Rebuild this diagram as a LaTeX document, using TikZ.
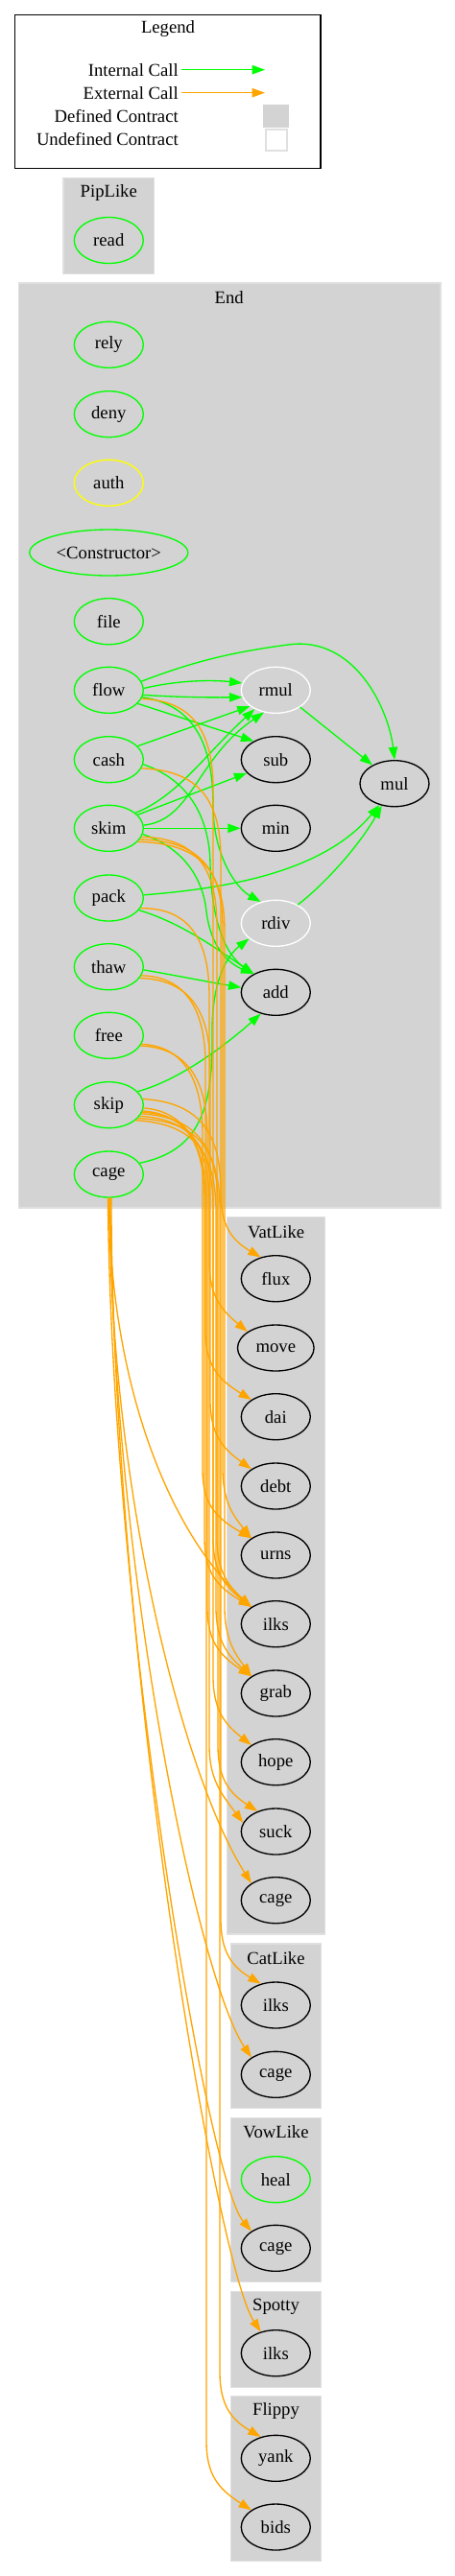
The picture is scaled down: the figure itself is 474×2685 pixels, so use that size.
\documentclass[tikz,border=0pt]{standalone}
\usepackage{fontspec}
\setmainfont{Liberation Serif}
\usetikzlibrary{arrows.meta,shapes.geometric}
\definecolor{gvgreen}{HTML}{00FF00}
\definecolor{gvorange}{HTML}{FFA500}
\definecolor{gvgray}{HTML}{D3D3D3}
\definecolor{gvyellow}{HTML}{FFFF00}
\definecolor{gvedge}{HTML}{E0E0E0}
\newcommand\oedge[5]{\draw[ext] (#1) .. controls (#2-22,#3+3) and (#2,#3+35) .. (#2,#3+95) -- (#2,#4-90) .. controls (#2,#4-55) and (#2+12,#4-40) .. (#5);}
\begin{document}
\begin{tikzpicture}[x=0.75pt,y=-0.75pt,
  every node/.style={font=\fontsize{14}{16}\selectfont},
  fn/.style={ellipse, draw=black, line width=1pt, minimum width=54pt, minimum height=36pt, inner sep=0pt},
  pub/.style={fn, draw=gvgreen},
  priv/.style={fn, draw=white},
  cluster/.style={fill=gvgray, draw=gvedge, line width=1pt},
  title/.style={inner sep=0pt},
  lbl/.style={inner sep=0pt, anchor=east},
  int/.style={draw=gvgreen, line width=1pt, -{Triangle[length=10pt,width=7pt]}},
  ext/.style={draw=gvorange, line width=1pt, -{Triangle[length=10pt,width=7pt]}},
]
\useasboundingbox (0,0) rectangle (474,2685);
\fill[white] (0,0) rectangle (474,2685);

% Legend
\draw[line width=1pt] (15.7,15.7) rectangle (334,175.7);
\node[title] (legend) at (175,30) {Legend};
\node[lbl] (lint) at (186,72.7) {Internal Call};
\node[lbl] (lext) at (186,96.7) {External Call};
\node[lbl] (ldef) at (186,120.7) {Defined Contract};
\node[lbl] (lund) at (186,145) {Undefined Contract};
\coordinate (lia) at (189,72.7); \coordinate (lib) at (276,72.7);
\coordinate (lea) at (189,96.7); \coordinate (leb) at (276,96.7);
\draw[int] (lia) -- (lib);
\draw[ext] (lea) -- (leb);
\node[rectangle, fill=gvgray, minimum width=20pt, minimum height=18pt, inner sep=0pt] (sqdef) at (287.5,121) {};
\node[rectangle, fill=white, draw=gvedge, line width=1pt, minimum width=16.5pt, minimum height=16.5pt, inner sep=0pt] (sqund) at (288,146) {};

% Clusters
\draw[cluster] (66,185.7) rectangle (160.7,285.7);
\node[title] (tpip) at (113.3,201) {PipLike};
\draw[cluster] (19.3,295) rectangle (459,1259);
\node[title] (tend) at (238.7,310) {End};
\draw[cluster] (236.7,1268.3) rectangle (338.7,2016);
\node[title] (tvat) at (287.7,1284) {VatLike};
\draw[cluster] (240.3,2026) rectangle (334.7,2197.3);
\node[title] (tcat) at (287.5,2040.7) {CatLike};
\draw[cluster] (240.3,2207.3) rectangle (334.7,2378.7);
\node[title] (tvow) at (287.5,2222.3) {VowLike};
\draw[cluster] (240.3,2388.7) rectangle (334.7,2488.3);
\node[title] (tspot) at (287.5,2404.3) {Spotty};
\draw[cluster] (240.3,2497.7) rectangle (334.7,2669.3);
\node[title] (tflip) at (287.5,2513.3) {Flippy};

% Nodes
\node[pub] (read) at (113.3,250.5) {read};
\node[pub] (rely) at (113.3,359.3) {rely};
\node[pub] (deny) at (113.3,431.7) {deny};
\node[pub, draw=gvyellow] (auth) at (113.3,503.3) {auth};
\node[pub, minimum width=123.75pt] (ctor) at (113.3,576) {<Constructor>};
\node[pub] (file) at (113.3,647.7) {file};
\node[pub] (flow) at (113.3,719.3) {flow};
\node[pub] (cash) at (113.3,791.7) {cash};
\node[pub] (skim) at (113.3,863.3) {skim};
\node[pub] (pack) at (113.3,936) {pack};
\node[pub] (thaw) at (113.3,1007.7) {thaw};
\node[pub] (free) at (113.3,1079.3) {free};
\node[pub] (skip) at (113.3,1151.7) {skip};
\node[pub] (ecage) at (113.3,1224) {cage};

\node[priv] (rmul) at (287.3,719.3) {rmul};
\node[fn] (sub) at (287.3,791.7) {sub};
\node[fn] (min) at (287.3,863.3) {min};
\node[priv] (rdiv) at (287.3,962.3) {rdiv};
\node[fn] (add) at (287.3,1034.3) {add};
\node[fn] (mul) at (411,816.7) {mul};

\node[fn] (flux) at (287.3,1332.7) {flux};
\node[fn, minimum width=59.7pt] (move) at (287.3,1405) {move};
\node[fn] (dai) at (287.3,1476.7) {dai};
\node[fn] (debt) at (287.3,1549) {debt};
\node[fn] (urns) at (287.3,1621) {urns};
\node[fn] (vilks) at (287.3,1692.7) {ilks};
\node[fn] (grab) at (287.3,1765) {grab};
\node[fn] (hope) at (287.3,1836.7) {hope};
\node[fn] (suck) at (287.3,1909) {suck};
\node[fn] (vcage) at (287.3,1980.7) {cage};

\node[fn] (cilks) at (287.3,2090) {ilks};
\node[fn] (ccage) at (287.3,2162.3) {cage};
\node[pub] (heal) at (287.3,2271.7) {heal};
\node[fn] (wcage) at (287.3,2343.3) {cage};
\node[fn] (silks) at (287.3,2452.7) {ilks};
\node[fn] (yank) at (287.3,2562.3) {yank};
\node[fn] (bids) at (287.3,2634) {bids};

% Internal calls
\draw[int] (flow.15) .. controls (200,690) and (240,680) .. (300,672) .. controls (370,662) and (405,740) .. (mul.north);
\draw[int] (flow.3) .. controls (190,708) and (225,709) .. (rmul.168);
\draw[int] (flow.-8) .. controls (190,727) and (225,727) .. (rmul.192);
\draw[int] (flow.-25) -- (sub.140);
\draw[int] (flow.-12) .. controls (205,735) and (222,780) .. (222,840) .. controls (222,890) and (245,925) .. (rdiv.125);
\draw[int] (cash.25) -- (rmul.212);
\draw[int] (cash.-8) .. controls (195,812) and (218,850) .. (219,900) .. controls (220,960) and (235,995) .. (add.140);
\draw[int] (skim.30) .. controls (185,830) and (215,785) .. (rmul.222);
\draw[int] (skim.5) .. controls (200,855) and (205,790) .. (rmul.242);
\draw[int] (skim.25) -- (sub.205);
\draw[int] (skim.east) -- (min.west);
\draw[int] (skim.-10) .. controls (195,885) and (212,920) .. (215,950) .. controls (220,990) and (240,1005) .. (add.140);
\draw[int] (pack.5) .. controls (250,925) and (340,905) .. (mul.235);
\draw[int] (pack.-22) .. controls (190,962) and (230,992) .. (add.140);
\draw[int] (thaw.-5) .. controls (190,1018) and (220,1024) .. (add.172);
\draw[int] (skip.25) .. controls (190,1125) and (240,1085) .. (add.235);
\draw[int] (ecage.20) .. controls (205,1200) and (222,1160) .. (221,1080) .. controls (220,1020) and (238,995) .. (rdiv.210);
\draw[int] (rmul.-35) -- (mul.140);
\draw[int] (rdiv.40) .. controls (340,920) and (375,880) .. (mul.240);

% External calls
\oedge{flow.-15}{222}{727}{1693}{vilks.145}
\oedge{cash.-15}{230}{800}{1333}{flux.125}
\oedge{skim.-15}{226}{870}{1693}{vilks.145}
\oedge{skim.-20}{232}{873}{1621}{urns.145}
\oedge{skim.-25}{234}{876}{1765}{grab.145}
\oedge{pack.-18}{218}{943}{1405}{move.150}
\oedge{thaw.-15}{214}{1015}{1477}{dai.145}
\oedge{thaw.-20}{219}{1018}{1549}{debt.145}
\oedge{free.-15}{211}{1087}{1621}{urns.145}
\oedge{free.-18}{216}{1089}{1765}{grab.145}
\oedge{skip.10}{230}{1146}{2090}{cilks.125}
\oedge{skip.-5}{213}{1155}{1693}{vilks.145}
\oedge{skip.-10}{215}{1158}{2634}{bids.145}
\oedge{skip.-12}{218}{1159}{1909}{suck.165}
\oedge{skip.-15}{227}{1161}{1909}{suck.132}
\oedge{skip.-20}{222}{1163}{1837}{hope.145}
\oedge{skip.-25}{229}{1165}{2562}{yank.125}
\oedge{skip.-30}{225}{1168}{1765}{grab.145}

\draw[ext] (ecage.-90) .. controls (115,1450) and (180,1600) .. (vilks.145);
\draw[ext] (ecage.-88) .. controls (114,1550) and (190,1850) .. (vcage.145);
\draw[ext] (ecage.-86) .. controls (115,1620) and (205,2060) .. (ccage.145);
\draw[ext] (ecage.-92) .. controls (116,1680) and (215,2270) .. (wcage.145);
\draw[ext] (ecage.-84) .. controls (117,1720) and (225,2360) .. (silks.125);
\end{tikzpicture}
\end{document}
